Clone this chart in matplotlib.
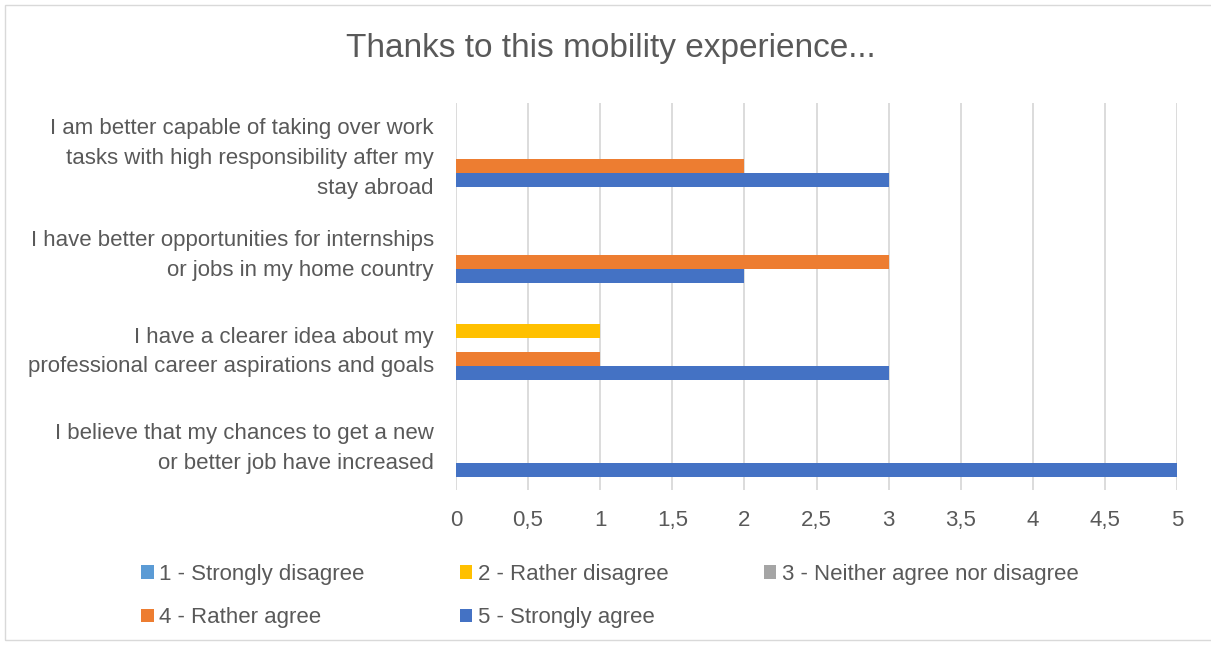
import matplotlib.pyplot as plt
import matplotlib.patches as mpatches
import numpy as np

# categories listed bottom-to-top as they appear on the axis
categories = [
    "I believe that my chances to get a new\nor better job have increased",
    "I have a clearer idea about my\nprofessional career aspirations and goals",
    "I have better opportunities for internships\nor jobs in my home country",
    "I am better capable of taking over work\ntasks with high responsibility after my\nstay abroad",
]
series_names = [
    "1 - Strongly disagree",
    "2 - Rather disagree",
    "3 - Neither agree nor disagree",
    "4 - Rather agree",
    "5 - Strongly agree",
]
strongly_disagree = [0, 0, 0, 0]
rather_disagree = [0, 1, 0, 0]
neither = [0, 0, 0, 0]
rather_agree = [0, 1, 3, 2]
strongly_agree = [5, 3, 2, 3]
colors = ["#5B9BD5", "#FFC000", "#A5A5A5", "#ED7D31", "#4472C4"]

values = [strongly_disagree, rather_disagree, neither, rather_agree, strongly_agree]

plt.rcParams['font.family'] = ['Liberation Sans', 'DejaVu Sans']
text_color = "#595959"
fs = 16

fig = plt.figure(figsize=(12.11, 6.45), dpi=100)
ax = fig.add_axes([0.3765, 0.240, 0.5955, 0.600])

y = np.arange(len(categories))
h = 0.145
handles = []
for k, (name, vals, col) in enumerate(zip(series_names, values, colors)):
    b = ax.barh(y + (2 - k) * h, vals, height=h, color=col, label=name)
    handles.append(b)

ticks = np.arange(0, 5.01, 0.5)
ax.set_xlim(0, 5)
ax.set_ylim(-0.5, len(categories) - 0.5)
ax.set_xticks(ticks)
ax.set_xticklabels([("%g" % t).replace(".", ",") for t in ticks])
ax.set_yticks(y)
ax.set_yticklabels(categories, fontsize=fs, color=text_color, ha="right",
                   linespacing=1.55)
ax.tick_params(axis="both", length=0, colors=text_color)
ax.tick_params(axis="x", labelsize=fs, pad=14)
ax.tick_params(axis="y", pad=16)
ax.xaxis.grid(True, color="#D9D9D9", linewidth=1.3)
ax.set_axisbelow(True)
for s in ax.spines.values():
    s.set_visible(False)

fig.text(0.504, 0.925, "Thanks to this mobility experience...", ha="center",
         va="center", fontsize=24, color=text_color)

order = [0, 3, 1, 4, 2]
leg = fig.legend([handles[i] for i in order], [series_names[i] for i in order],
                 ncol=3, loc="upper left", bbox_to_anchor=(0.1075, 0.143),
                 frameon=False, fontsize=fs, handlelength=0.55, handleheight=0.55,
                 handletextpad=0.25, columnspacing=4.3, labelspacing=1.0,
                 borderpad=0)
for t in leg.get_texts():
    t.set_color(text_color)

fig.patches.append(mpatches.Rectangle((5 / 1211, 5 / 645), 1.0, 635 / 645,
                                      transform=fig.transFigure, fill=False,
                                      edgecolor="#D9D9D9", linewidth=1))

fig.savefig("out.png", dpi=100)
